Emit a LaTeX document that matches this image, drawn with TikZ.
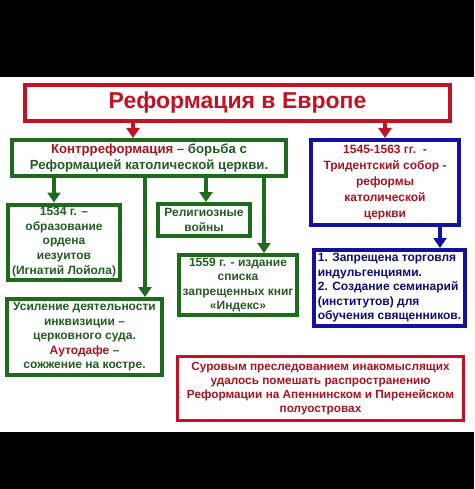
\documentclass[tikz,border=0pt]{standalone}
\usepackage{fontspec}
\setmainfont{Liberation Sans}
\usetikzlibrary{arrows.meta}

\definecolor{boxred}{RGB}{196,18,34}
\definecolor{textred}{RGB}{168,20,32}
\definecolor{boxgreen}{RGB}{28,108,28}
\definecolor{textgreen}{RGB}{36,92,36}
\definecolor{boxblue}{RGB}{18,18,160}
\definecolor{textblue}{RGB}{12,12,120}

\begin{document}
\begin{tikzpicture}[x=1pt,y=-1pt,
    box/.style={draw,line width=4pt,inner sep=0pt,align=center,
        font=\bfseries\fontsize{12}{14.5}\selectfont},
    gbox/.style={box,draw=boxgreen,text=textgreen},
    bbox/.style={box,draw=boxblue,text=textblue},
    rbox/.style={box,draw=boxred,text=textred},
    tip/.style={-{Triangle[width=13pt,length=10pt]}},
    rarr/.style={tip,line width=4pt,boxred},
    garr/.style={tip,line width=4pt,boxgreen},
    barr/.style={tip,line width=4pt,boxblue}]
    \useasboundingbox (0,0) rectangle (474,489);

    % Black bands
    \fill[black] (0,0) rectangle (474,77);
    \fill[black] (0,432) rectangle (474,489);

    % Title
    \node[rbox,minimum width=425pt,minimum height=36pt,text=boxred,
        font=\bfseries\fontsize{23}{27}\selectfont] (title) at (237.5,103)
        {Реформация в Европе};

    % Counter-reformation branch
    \node[gbox,minimum width=274pt,minimum height=36pt,
        font=\bfseries\fontsize{13.2}{16}\selectfont] (cr) at (149,158)
        {\textcolor{textred}{Контрреформация} – борьба с\\Реформацией католической церкви.};
    \node[gbox,minimum width=112pt,minimum height=75pt,
        font=\bfseries\fontsize{12}{14.6}\selectfont] (jes) at (64,242)
        {1534 г. –\\образование\\ордена\\иезуитов\\(Игнатий Лойола)};
    \node[gbox,minimum width=92pt,minimum height=32pt] (wars) at (204,220)
        {Религиозные\\войны};
    \node[gbox,minimum width=118pt,minimum height=60pt] (index) at (238,285)
        {1559 г. - издание\\списка\\запрещенных книг\\«Индекс»};
    \node[gbox,minimum width=155pt,minimum height=76pt] (inq) at (84.5,337)
        {Усиление деятельности\\инквизиции –\\церковного суда.\\
        \textcolor{textred}{Аутодафе} –\\сожжение на костре.};

    % Trent branch
    \node[bbox,minimum width=148pt,minimum height=85pt,text=textred,
        font=\bfseries\fontsize{12}{16}\selectfont] (trid) at (385,182.5)
        {1545-1563 гг.\ \ -\\Тридентский собор -\\реформы\\католической\\церкви};
    \node[bbox,minimum width=151pt,minimum height=76pt,align=left] (refs) at (389.5,288)
        {1. Запрещена торговля\\индульгенциями.\\2. Создание семинарий\\(институтов) для\\обучения священников.};

    % Conclusion
    \node[rbox,line width=3.5pt,minimum width=286pt,minimum height=64pt,
        font=\bfseries\fontsize{11.8}{14}\selectfont] (res) at (320.5,388.5)
        {Суровым преследованием инакомыслящих\\удалось помешать распространению\\
        Реформации на Апеннинском и Пиренейском\\полуостровах};

    % Arrow positions
    \coordinate (p1) at (133,0);
    \coordinate (p2) at (54,0);
    \coordinate (p3) at (145,0);
    \coordinate (p4) at (206,0);
    \coordinate (p5) at (264,0);
    \coordinate (p6) at (440,0);

    % Arrows
    \draw[rarr] (title.south -| p1) -- (cr.north -| p1);
    \draw[rarr] (title.south -| trid.north) -- (trid.north);
    \draw[garr] (cr.south -| p2) -- (jes.north -| p2);
    \draw[garr] (cr.south -| p3) -- (inq.north -| p3);
    \draw[garr] (cr.south -| p4) -- (wars.north -| p4);
    \draw[garr] (cr.south -| p5) -- (index.north -| p5);
    \draw[barr] (trid.south -| p6) -- (refs.north -| p6);
\end{tikzpicture}
\end{document}
